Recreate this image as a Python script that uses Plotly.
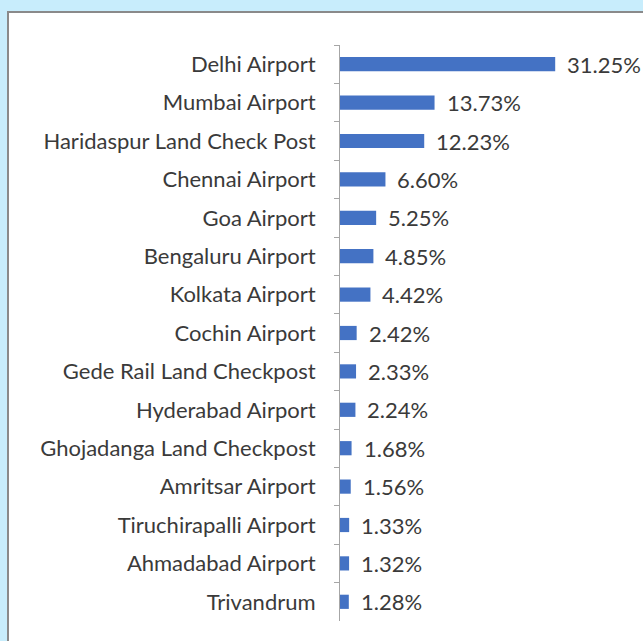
import plotly.graph_objects as go

ports = ["Delhi Airport", "Mumbai Airport", "Haridaspur Land Check Post", "Chennai Airport",
         "Goa Airport", "Bengaluru Airport", "Kolkata Airport", "Cochin Airport",
         "Gede Rail Land Checkpost", "Hyderabad Airport", "Ghojadanga Land Checkpost",
         "Amritsar Airport", "Tiruchirapalli Airport", "Ahmadabad Airport", "Trivandrum"]
shares = [31.25, 13.73, 12.23, 6.60, 5.25, 4.85, 4.42, 2.42, 2.33, 2.24, 1.68, 1.56, 1.33, 1.32, 1.28]
labels = [f"{v:.2f}%" for v in shares]

W, H = 643, 641
L, R, T, B = 340, 0, 45, 20
pw, ph = W - L - R, H - T - B

def px_x(p):
    return (p - L) / pw

def px_y(p):
    return 1 - (p - T) / ph

font = dict(family="Lato, Carlito, sans-serif", size=22, color="#3a3a3a")

fig = go.Figure()
fig.add_trace(go.Bar(
    x=shares, y=ports, orientation="h",
    marker=dict(color="#4472C4", line=dict(width=0)),
    width=0.37,
    hoverinfo="skip",
))

annotations = [dict(x=v, y=p, xref="x", yref="y", text=t, showarrow=False,
                    xanchor="left", yanchor="middle", xshift=10, font=font)
               for v, p, t in zip(shares, ports, labels)]

fig.update_layout(
    width=W, height=H,
    margin=dict(l=L, r=R, t=T, b=B, autoexpand=False),
    paper_bgcolor="#c8edfc",
    plot_bgcolor="rgba(0,0,0,0)",
    showlegend=False,
    annotations=annotations,
    shapes=[dict(type="rect", xref="paper", yref="paper", layer="below",
                 x0=px_x(8), x1=px_x(660), y0=px_y(660), y1=px_y(12),
                 fillcolor="white", line=dict(color="#8a8a8a", width=2))],
)
fig.update_xaxes(range=[0, 44], visible=False, showgrid=False, zeroline=False)
fig.update_yaxes(
    autorange="reversed", showgrid=False, zeroline=False, automargin=False,
    showline=True, linecolor="#a6a6a6", linewidth=1,
    ticks="outside", tickson="boundaries", ticklen=5, tickcolor="#a6a6a6",
    ticklabelstandoff=19,
    tickfont=font,
)

fig.write_html("out.html",
               config={"displayModeBar": False},
               post_script="document.body.style.margin='0';document.body.style.background='#c8edfc';")
